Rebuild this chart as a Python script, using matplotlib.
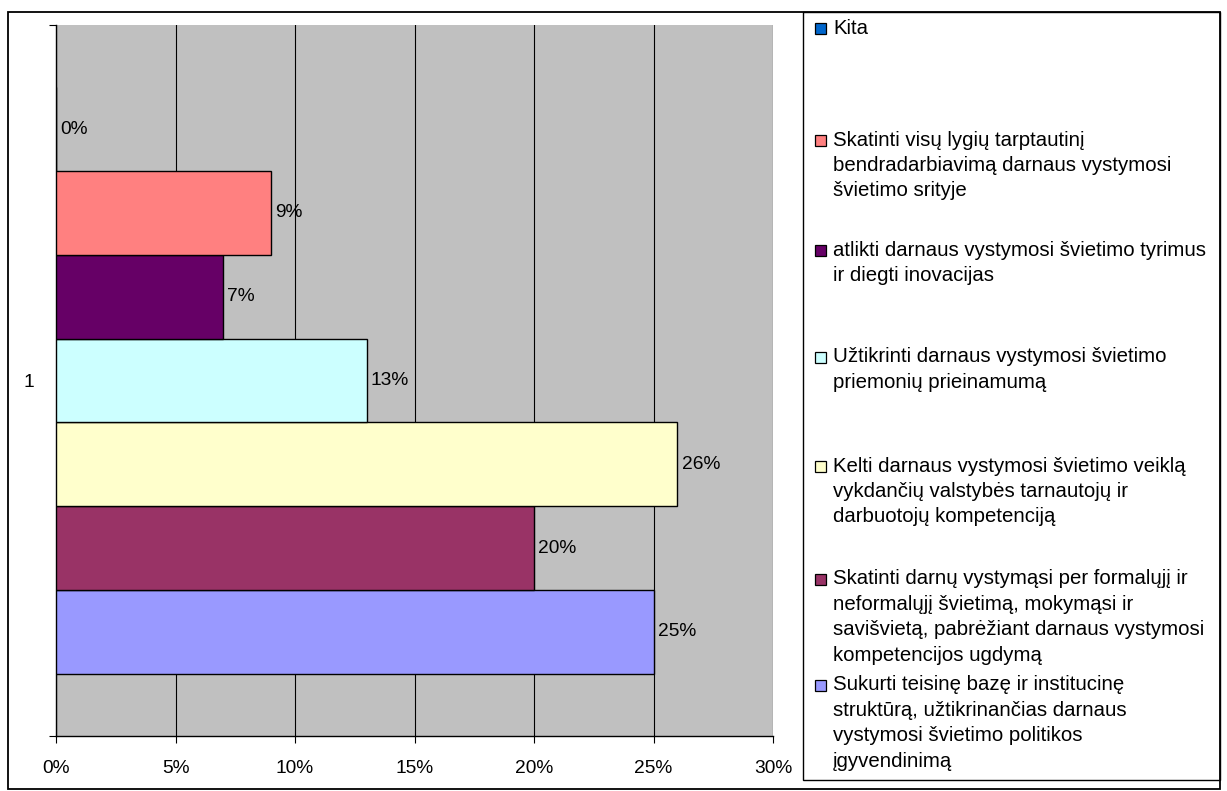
import matplotlib
matplotlib.use("Agg")
import matplotlib.pyplot as plt
from matplotlib.patches import Rectangle
from matplotlib.ticker import FuncFormatter, MultipleLocator

plt.rcParams['font.family'] = ['Liberation Sans', 'DejaVu Sans']

# series in drawing order (bottom bar first)
labels = [
    "Sukurti teisinę bazę ir institucinę\nstruktūrą, užtikrinančias darnaus\nvystymosi švietimo politikos\nįgyvendinimą",
    "Skatinti darnų vystymąsi per formalųjį ir\nneformalųjį švietimą, mokymąsi ir\nsavišvietą, pabrėžiant darnaus vystymosi\nkompetencijos ugdymą",
    "Kelti darnaus vystymosi švietimo veiklą\nvykdančių valstybės tarnautojų ir\ndarbuotojų kompetenciją",
    "Užtikrinti darnaus vystymosi švietimo\npriemonių prieinamumą",
    "atlikti darnaus vystymosi švietimo tyrimus\nir diegti inovacijas",
    "Skatinti visų lygių tarptautinį\nbendradarbiavimą darnaus vystymosi\nšvietimo srityje",
    "Kita",
]
values = [0.25, 0.20, 0.26, 0.13, 0.07, 0.09, 0.00]
colors = ["#9999FF", "#993366", "#FFFFCC", "#CCFFFF", "#660066", "#FF8080", "#0066CC"]
category = "1"

W, H = 1227, 791
FS = 13.8       # axis text
FS_LEG = 14.7   # legend text

def fx(px):
    return px / W

def fy(py):
    return 1 - py / H

fig = plt.figure(figsize=(W / 100, H / 100), dpi=100)
fig.patch.set_facecolor("white")

ax = fig.add_axes([fx(56), fy(736), fx(773) - fx(56), fy(25) - fy(736)])
ax.set_facecolor("#C0C0C0")

n = len(values)
h = 0.1179
start = 1 - n * h / 2
ypos = [start + (i + 0.5) * h for i in range(n)]
ax.barh(ypos, values, height=h, color=colors, edgecolor="black", linewidth=1.0, zorder=3)

for y, v in zip(ypos, values):
    ax.annotate(f"{v * 100:.0f}%", xy=(v, y), xytext=(3, 0), textcoords="offset points",
                ha="left", va="center", fontsize=FS, zorder=4)

ax.set_xlim(0, 0.30)
ax.set_ylim(0.5, 1.5)
ax.xaxis.set_major_locator(MultipleLocator(0.05))
ax.xaxis.set_major_formatter(FuncFormatter(lambda x, p: f"{x * 100:.0f}%"))
ax.grid(axis="x", color="black", linewidth=0.8, zorder=1)
ax.set_axisbelow(True)

ax.set_yticks([1])
ax.set_yticklabels([category])
ax.set_yticks([0.5, 1.5], minor=True)
ax.tick_params(axis="y", which="major", length=0, pad=16, labelsize=FS)
ax.tick_params(axis="y", which="minor", length=5, width=0.8, direction="out")
ax.tick_params(axis="x", length=5, width=0.8, direction="out", pad=12, labelsize=FS)

for s in ["top", "right"]:
    ax.spines[s].set_visible(False)
for s in ["left", "bottom"]:
    ax.spines[s].set_color("black")
    ax.spines[s].set_linewidth(1.0)

# outer chart border
fig.patches.append(Rectangle((fx(8), fy(789)), fx(1220) - fx(8), fy(12) - fy(789),
                             transform=fig.transFigure, fill=False, edgecolor="black", linewidth=1.3))

# legend box
fig.patches.append(Rectangle((fx(803), fy(780)), fx(1220) - fx(803), fy(12) - fy(780),
                             transform=fig.transFigure, fill=False, edgecolor="black", linewidth=1.0))

# legend entries, top to bottom (reverse of drawing order)
first_line_y = [685, 579, 466, 357, 250, 140, 28]
step = 25.4
for lab, col, y0 in zip(labels, colors, first_line_y):
    fig.patches.append(Rectangle((fx(815), fy(y0 + 6)), fx(826) - fx(815), fy(y0 - 5) - fy(y0 + 6),
                                 transform=fig.transFigure, facecolor=col, edgecolor="black",
                                 linewidth=0.9))
    for k, line in enumerate(lab.split("\n")):
        fig.text(fx(833), fy(y0 + k * step), line, ha="left", va="center", fontsize=FS_LEG)

fig.savefig("out.png", dpi=100)
